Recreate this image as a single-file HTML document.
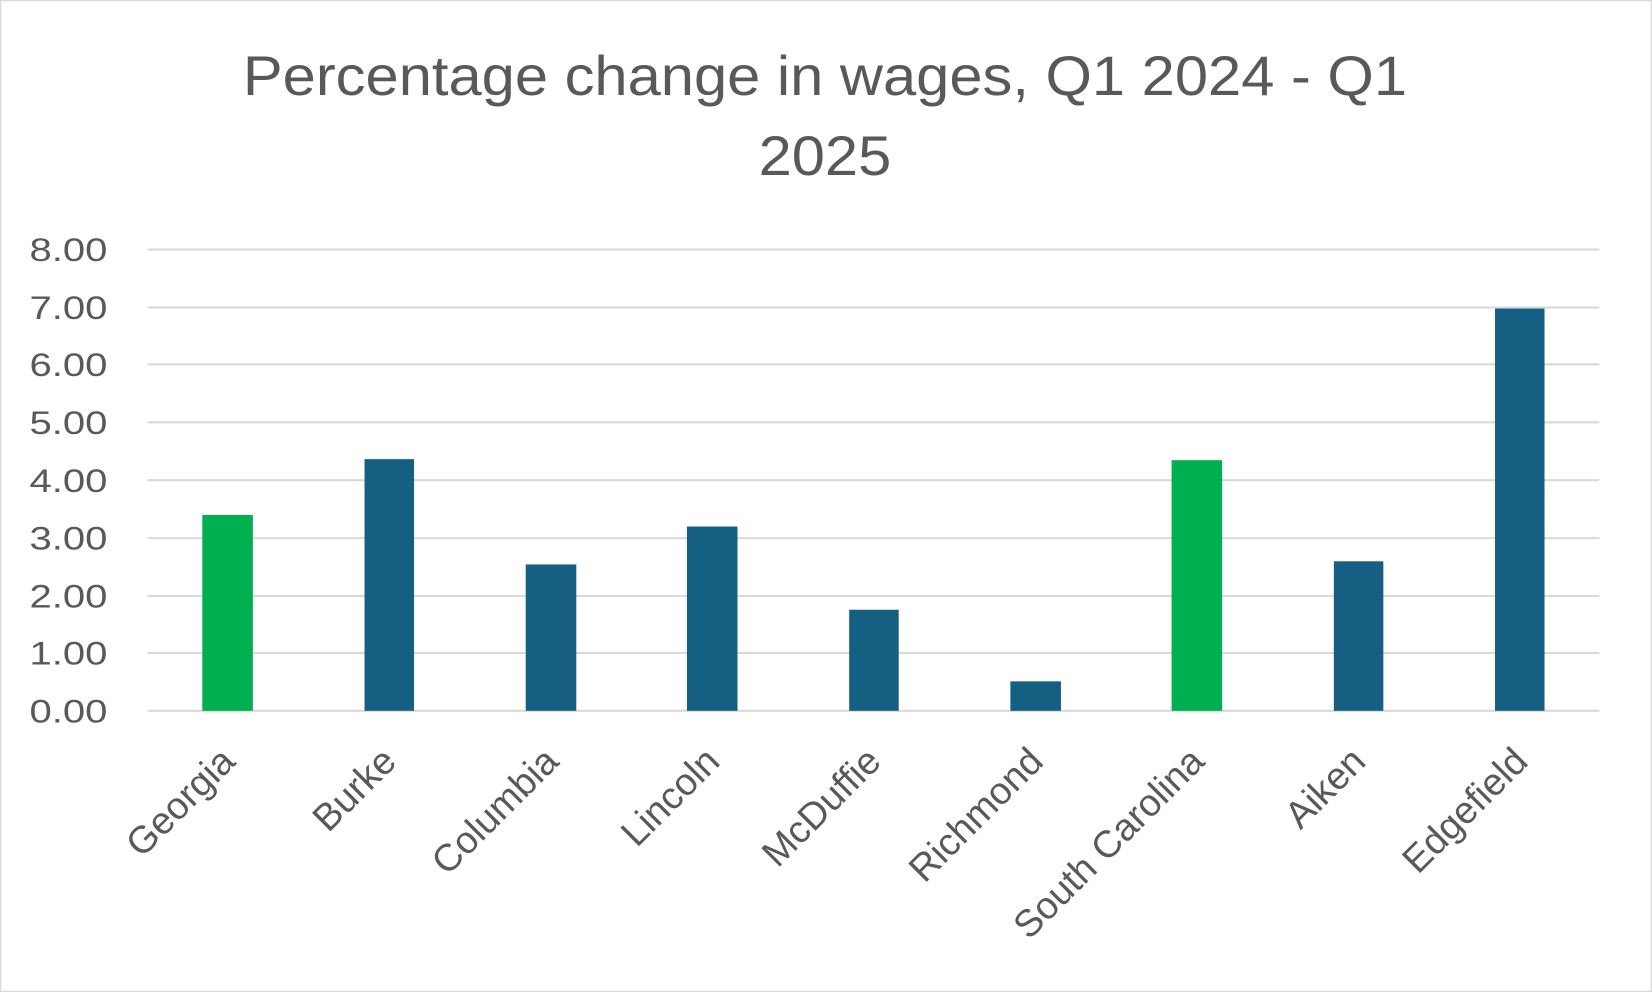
<!DOCTYPE html>
<html><head><style>html,body{margin:0;padding:0;background:#fff}svg{display:block}</style></head>
<body>
<svg width="1652" height="992" viewBox="0 0 1568 942" preserveAspectRatio="none" xmlns="http://www.w3.org/2000/svg" font-family="Liberation Sans, sans-serif">
<rect x="0.5" y="0.5" width="1567" height="941" fill="#fff" stroke="#d9d9d9" stroke-width="1.5"/>
<text x="783" y="90" text-anchor="middle" font-size="53" fill="#595959" textLength="1105" lengthAdjust="spacingAndGlyphs">Percentage change in wages, Q1 2024 - Q1</text>
<text x="783" y="166" text-anchor="middle" font-size="53" fill="#595959" textLength="126" lengthAdjust="spacingAndGlyphs">2025</text>
<g stroke="#d9d9d9" stroke-width="2">
<line x1="140" x2="1518" y1="237" y2="237"/><line x1="140" x2="1518" y1="292" y2="292"/>
<line x1="140" x2="1518" y1="346" y2="346"/><line x1="140" x2="1518" y1="401" y2="401"/>
<line x1="140" x2="1518" y1="456" y2="456"/><line x1="140" x2="1518" y1="511" y2="511"/>
<line x1="140" x2="1518" y1="566" y2="566"/><line x1="140" x2="1518" y1="620" y2="620"/>
<line x1="140" x2="1518" y1="675" y2="675"/>
</g>
<g font-size="31" fill="#595959" text-anchor="end">
<text x="102" y="248" textLength="74" lengthAdjust="spacingAndGlyphs">8.00</text><text x="102" y="303" textLength="74" lengthAdjust="spacingAndGlyphs">7.00</text><text x="102" y="357" textLength="74" lengthAdjust="spacingAndGlyphs">6.00</text>
<text x="102" y="412" textLength="74" lengthAdjust="spacingAndGlyphs">5.00</text><text x="102" y="467" textLength="74" lengthAdjust="spacingAndGlyphs">4.00</text><text x="102" y="522" textLength="74" lengthAdjust="spacingAndGlyphs">3.00</text>
<text x="102" y="577" textLength="74" lengthAdjust="spacingAndGlyphs">2.00</text><text x="102" y="631" textLength="74" lengthAdjust="spacingAndGlyphs">1.00</text><text x="102" y="686" textLength="74" lengthAdjust="spacingAndGlyphs">0.00</text>
</g>
<rect x="192" y="489" width="48" height="186" fill="#00b050"/>
<rect x="346" y="436" width="47" height="239" fill="#156082"/>
<rect x="499" y="536" width="48" height="139" fill="#156082"/>
<rect x="652" y="500" width="48" height="175" fill="#156082"/>
<rect x="806" y="579" width="47" height="96" fill="#156082"/>
<rect x="959" y="647" width="48" height="28" fill="#156082"/>
<rect x="1112" y="437" width="48" height="238" fill="#00b050"/>
<rect x="1266" y="533" width="47" height="142" fill="#156082"/>
<rect x="1419" y="293" width="47" height="382" fill="#156082"/>
<g font-size="36" fill="#595959" text-anchor="end">
<text transform="translate(225,725) rotate(-45)">Georgia</text>
<text transform="translate(378,725) rotate(-45)">Burke</text>
<text transform="translate(532,725) rotate(-45)">Columbia</text>
<text transform="translate(685,725) rotate(-45)">Lincoln</text>
<text transform="translate(838,725) rotate(-45)">McDuffie</text>
<text transform="translate(992,725) rotate(-45)">Richmond</text>
<text transform="translate(1145,725) rotate(-45)">South Carolina</text>
<text transform="translate(1298,725) rotate(-45)">Aiken</text>
<text transform="translate(1452,725) rotate(-45)">Edgefield</text>
</g>
</svg>
</body></html>
